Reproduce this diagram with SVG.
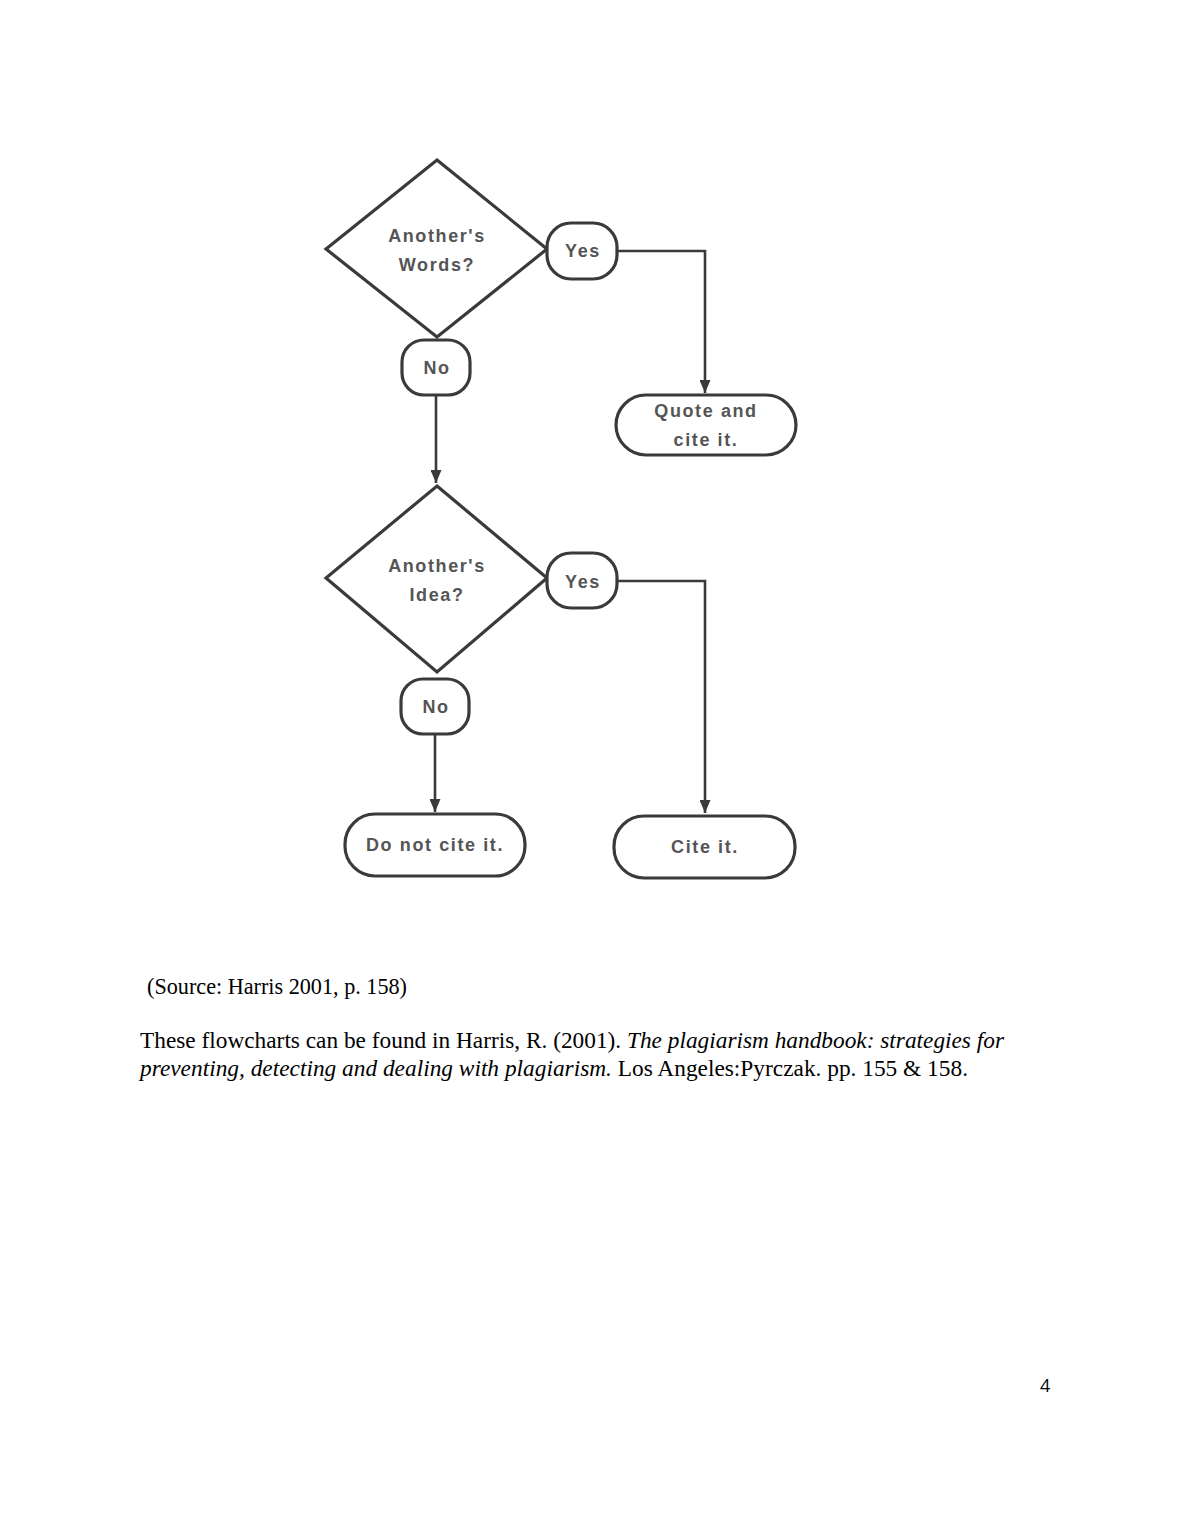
<svg xmlns="http://www.w3.org/2000/svg" width="1190" height="1540" viewBox="0 0 1190 1540">
<defs>
<marker id="ah" markerWidth="13" markerHeight="11" refX="13" refY="5.5" orient="auto" markerUnits="userSpaceOnUse" viewBox="0 0 13 11">
<path d="M0,0 L13,5.5 L0,11 z" fill="#3a3a3a"/>
</marker>
<style>
.sh{fill:#fff;stroke:#3a3a3a;stroke-width:3.2}
.t{font-family:"Liberation Sans",Arial,sans-serif;font-weight:bold;font-size:18px;fill:#555;text-anchor:middle;letter-spacing:1.6px}
.c{fill:none;stroke:#3a3a3a;stroke-width:2.6}
.f{font-family:"Liberation Serif","Times New Roman",serif;font-size:22.5px;fill:#000}
</style>
</defs>
<rect width="1190" height="1540" fill="#fff"/>
<g id="connectors">
<path class="c" d="M618,251 H705 V393" marker-end="url(#ah)"/>
<path class="c" d="M436,396 V483" marker-end="url(#ah)"/>
<path class="c" d="M617,581 H705 V813" marker-end="url(#ah)"/>
<path class="c" d="M435,734 V812" marker-end="url(#ah)"/>
</g>
<g id="d1"><polygon class="sh" points="437,160 547,249 437,337 326,249"/><text class="t" x="437" y="242">Another's</text><text class="t" x="437" y="271">Words?</text></g>
<g id="yes1"><rect class="sh" x="547" y="223" width="70" height="56" rx="24"/><text class="t" x="583" y="257">Yes</text></g>
<g id="no1"><rect class="sh" x="402" y="340" width="68" height="55" rx="22"/><text class="t" x="437" y="374">No</text></g>
<g id="quote"><rect class="sh" x="616" y="395" width="180" height="60" rx="30"/><text class="t" x="706" y="417">Quote and</text><text class="t" x="706" y="446">cite it.</text></g>
<g id="d2"><polygon class="sh" points="437,486 547,578 437,672 326,578"/><text class="t" x="437" y="572">Another's</text><text class="t" x="437" y="601">Idea?</text></g>
<g id="yes2"><rect class="sh" x="547" y="553" width="70" height="55" rx="24"/><text class="t" x="583" y="588">Yes</text></g>
<g id="no2"><rect class="sh" x="401" y="679" width="68" height="55" rx="22"/><text class="t" x="436" y="713">No</text></g>
<g id="donot"><rect class="sh" x="345" y="814" width="180" height="62" rx="30"/><text class="t" x="435" y="851">Do not cite it.</text></g>
<g id="cite"><rect class="sh" x="614" y="816" width="181" height="62" rx="30"/><text class="t" x="705" y="853">Cite it.</text></g>
<text class="f" x="147" y="994" textLength="260" lengthAdjust="spacingAndGlyphs">(Source: Harris 2001, p. 158)</text>
<text class="f" x="140" y="1048" textLength="864" lengthAdjust="spacingAndGlyphs">These flowcharts can be found in Harris, R. (2001). <tspan font-style="italic">The plagiarism handbook: strategies for</tspan></text>
<text class="f" x="140" y="1076" textLength="828" lengthAdjust="spacingAndGlyphs"><tspan font-style="italic">preventing, detecting and dealing with plagiarism.</tspan> Los Angeles:Pyrczak. pp. 155 &amp; 158.</text>
<text x="1040" y="1392" font-family="'Open Sans','DejaVu Sans',sans-serif" font-size="18" fill="#000">4</text>
</svg>
